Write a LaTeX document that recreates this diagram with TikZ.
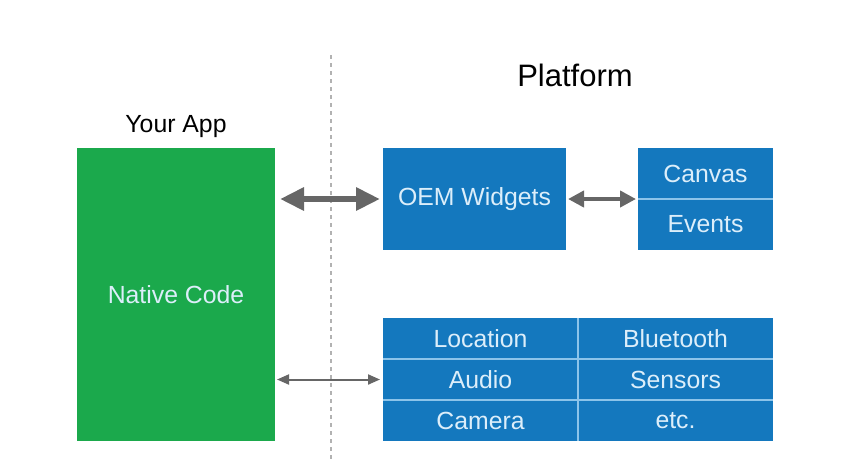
\documentclass[tikz,border=0pt]{standalone}
\usepackage{fontspec}
\setmainfont{Liberation Sans}
\usetikzlibrary{arrows.meta}
\definecolor{appgreen}{HTML}{1BA94C}
\definecolor{platblue}{HTML}{1478BE}
\definecolor{sepblue}{HTML}{8CC4EA}
\definecolor{boxtext}{HTML}{DCEEFA}
\definecolor{arrowgrey}{HTML}{666666}
\tikzset{
  box/.style = {inner sep=0pt, outer sep=0pt, fill=platblue, text=boxtext, font=\fontsize{12.4}{14}\selectfont},
  cell/.style = {box, minimum width=97.5pt, minimum height=20.5pt},
  link/.style = {draw=arrowgrey, line width=#1},
}
\begin{document}
\begin{tikzpicture}[x=0.5pt, y=-0.5pt]
  \useasboundingbox (0,0) rectangle (854,462);
  % divider between app and platform
  \draw[black!30, line width=0.6pt, dash pattern=on 2pt off 2pt] (331,55) -- (331,462);
  \node[font=\fontsize{15.5}{18}\selectfont] (plat) at (575,75) {Platform};
  \node[font=\fontsize{12.4}{14}\selectfont] (yours) at (176,127) {Your App};
  % native side
  \node[box, fill=appgreen, minimum width=99pt, minimum height=146.5pt] (app) at (176,294.5) {Native Code};
  % platform side
  \node[box, minimum width=91.5pt, minimum height=51pt] (oem) at (474.5,199) {OEM Widgets};
  \node[box, minimum width=67.5pt, minimum height=25.5pt] (canvas) at (705.5,173.5) {Canvas};
  \node[box, minimum width=67.5pt, minimum height=25.5pt] (events) at (705.5,224.5) {Events};
  \node[cell] (loc) at (480.5,338.5) {Location};
  \node[cell] (blue) at (675.5,338.5) {Bluetooth};
  \node[cell] (audio) at (480.5,379.5) {Audio};
  \node[cell] (sens) at (675.5,379.5) {Sensors};
  \node[cell] (cam) at (480.5,420.5) {Camera};
  \node[cell] (etc) at (675.5,420.5) {etc.};
  % separators
  \draw[sepblue, line width=0.6pt] (canvas.south west) -- (canvas.south east);
  \draw[sepblue, line width=0.6pt] (loc.south west) -- (blue.south east);
  \draw[sepblue, line width=0.6pt] (audio.south west) -- (sens.south east);
  \draw[sepblue, line width=0.6pt] (loc.north east) -- (cam.south east);
  % connectors
  \draw[link=3pt, {Triangle[length=12pt, width=11pt]}-{Triangle[length=12pt, width=11pt]}, shorten <=2.5pt, shorten >=1.5pt] (app.east |- oem.west) -- (oem.west);
  \draw[link=2pt, {Triangle[length=8pt, width=8pt]}-{Triangle[length=8pt, width=8pt]}, shorten <=1pt, shorten >=1pt] (oem.east) -- (oem.east -| canvas.west);
  \draw[link=1pt, {Triangle[length=6pt, width=5pt]}-{Triangle[length=6pt, width=5pt]}, shorten <=1pt, shorten >=1.5pt] (app.east |- audio.west) -- (audio.west);
\end{tikzpicture}
\end{document}
